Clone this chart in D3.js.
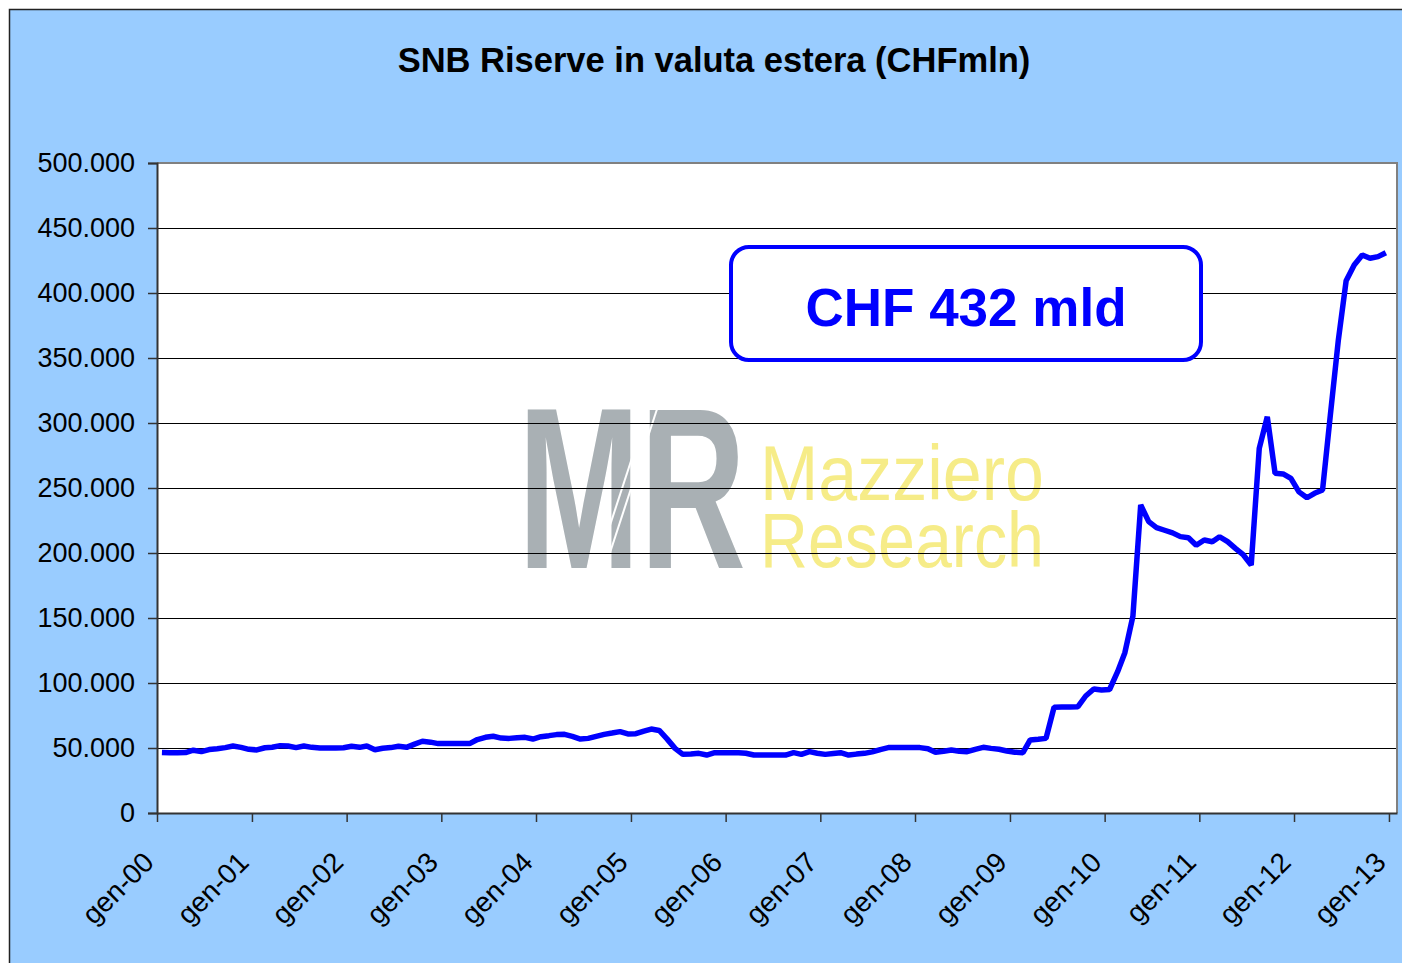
<!DOCTYPE html>
<html>
<head>
<meta charset="utf-8">
<script src="https://cdn.jsdelivr.net/npm/d3@7"></script>
<style>
  body { margin: 0; background: #fff; }
  svg { display: block; font-family: "Liberation Sans", Arial, sans-serif; }
</style>
</head>
<body>
<svg id="chart" width="1402" height="963"></svg>
<script>
/*************************
 *  data (CHF mln, monthly, gen-00 .. dic-12)
*************************/
const r2000 = [46600, 46400, 46400, 46500, 48300, 47200, 48800, 49500, 50300, 51500, 50500, 49000]
const r2001 = [48500, 50200, 50600, 51800, 51500, 50300, 51500, 50500, 50000, 50000, 50000, 50200]
const r2002 = [51300, 50500, 51500, 48700, 49800, 50300, 51300, 50500, 53000, 55200, 54500, 53400]
const r2003 = [53400, 53400, 53400, 53400, 56500, 58200, 59000, 57600, 57400, 57900, 58200, 56900]
const r2004 = [58700, 59500, 60300, 60500, 59000, 56900, 57400, 59000, 60500, 61500, 62600, 60800]
const r2005 = [61000, 63000, 64600, 63500, 57000, 49700, 45100, 45300, 45900, 44600, 46400, 46400]
const r2006 = [46400, 46400, 46000, 44600, 44600, 44600, 44600, 44600, 46400, 45100, 47200, 46000]
const r2007 = [45100, 45800, 46400, 44600, 45300, 45900, 47000, 48800, 50300, 50300, 50300, 50300]
const r2008 = [50300, 49500, 46700, 47500, 48500, 47500, 47200, 49000, 50500, 49700, 49000, 47700]
const r2009 = [46800, 46400, 56200, 56800, 57400, 81300, 81500, 81600, 81800, 90000, 95400, 94600]
const r2010 = [95000, 108700, 123300, 151500, 236900, 224100, 219500, 217500, 215500, 212600, 211800, 206000]
const r2011 = [210000, 208700, 212500, 208700, 203600, 198500, 190800, 280500, 304800, 261300, 260800, 257400]
const r2012 = [247000, 242500, 245900, 248500, 306000, 364000, 409500, 421500, 429200, 426700, 428000, 431000]

const tickLabels = ["gen-00", "gen-01", "gen-02", "gen-03", "gen-04", "gen-05", "gen-06",
                    "gen-07", "gen-08", "gen-09", "gen-10", "gen-11", "gen-12", "gen-13"]
const yTicks = [0, 50000, 100000, 150000, 200000, 250000, 300000, 350000, 400000, 450000, 500000]

const chartTitle = "SNB Riserve in valuta estera (CHFmln)"
const noteText = "CHF 432 mld"

let reserves = [].concat(r2000, r2001, r2002, r2003, r2004, r2005, r2006,
                         r2007, r2008, r2009, r2010, r2011, r2012)
let series = reserves.map((v, i) => ({date: new Date(2000, i, 20), value: v}))

/*************************
 *  layout
*************************/
const svg = d3.select('#chart')
const plot = {left: 157, right: 1397, top: 163, bottom: 813}

const itFormat = d3.formatLocale({decimal: ",", thousands: ".", grouping: [3], currency: ["", ""]}).format(",")

let x = d3.scaleTime()
    .domain([new Date(2000, 0, 1), new Date(2013, 1, 1)])
    .range([plot.left, plot.right])

let y = d3.scaleLinear()
    .domain([0, 500000])
    .range([plot.bottom, plot.top])

// blue frame
svg.append('rect')
    .attr('x', 9.5).attr('y', 9.5)
    .attr('width', 1400).attr('height', 960)
    .attr('fill', '#99CCFF')
    .attr('stroke', '#222').attr('stroke-width', 1.5)

svg.append('text')
    .attr('x', 714).attr('y', 72)
    .attr('text-anchor', 'middle')
    .attr('font-size', 34.5).attr('font-weight', 'bold')
    .attr('fill', '#000')
    .text(chartTitle)

// plot area
svg.append('rect')
    .attr('x', plot.left).attr('y', plot.top)
    .attr('width', plot.right - plot.left).attr('height', plot.bottom - plot.top)
    .attr('fill', '#fff')

/*************************
 *  watermark
 *  squeeze with a scale transform so the boxes match the ink
*************************/
let wm = svg.append('g').attr('id', 'watermark')

function squeeze(sel, x0, y0, width) {
    let w = sel.node().getComputedTextLength()
    sel.attr('transform', `translate(${x0}, ${y0}) scale(${width / w}, 1)`)
}

wm.append('text')
    .attr('font-size', 230).attr('font-weight', 'bold')
    .attr('fill', '#A9B0B4')
    .text('MR')
    .call(squeeze, 518, 568, 228)

wm.selectAll('.stripe')
    .data([0, 9])
    .join('line')
    .attr('x1', d => 650 + d).attr('y1', 403)
    .attr('x2', d => 596 + d).attr('y2', 568)
    .attr('stroke', '#fff').attr('stroke-width', 2)

wm.append('text')
    .attr('font-size', 78).attr('fill', '#F6EC88')
    .text('Mazziero')
    .call(squeeze, 760, 500, 284)

wm.append('text')
    .attr('font-size', 78).attr('fill', '#F6EC88')
    .text('Research')
    .call(squeeze, 760, 567, 284)

/*************************
 *  grid + axes
*************************/
svg.append('g')
    .selectAll('line')
    .data(yTicks.filter(d => d > 0 && d < 500000))
    .join('line')
    .attr('x1', plot.left).attr('x2', plot.right)
    .attr('y1', d => Math.round(y(d)) + 0.5).attr('y2', d => Math.round(y(d)) + 0.5)
    .attr('stroke', '#000').attr('stroke-width', 1)

// plot border (gray top/right)
svg.append('path')
    .attr('d', `M${plot.left},${plot.top}H${plot.right}V${plot.bottom}`)
    .attr('fill', 'none')
    .attr('stroke', '#808080').attr('stroke-width', 2)

let axisLeft = d3.axisLeft(y)
    .tickValues(yTicks)
    .tickFormat(itFormat)
    .tickSize(9)
    .tickPadding(13)

svg.append('g')
    .attr('transform', `translate(${plot.left}, 0)`)
    .call(axisLeft)
    .call(g => g.select('.domain').attr('stroke', '#333').attr('stroke-width', 2))
    .call(g => g.selectAll('.tick line').attr('stroke', '#333').attr('stroke-width', 1.5))
    .call(g => g.selectAll('.tick text')
        .attr('font-size', 27)
        .attr('fill', '#000')
        .attr('font-family', '"Liberation Sans", Arial, sans-serif'))

let yearTicks = tickLabels.map((d, i) => new Date(2000 + i, 0, 1))

let axisBottom = d3.axisBottom(x)
    .tickValues(yearTicks)
    .tickFormat((d, i) => tickLabels[i])
    .tickSize(9)
    .tickSizeOuter(0)

svg.append('g')
    .attr('transform', `translate(0, ${plot.bottom})`)
    .call(axisBottom)
    .call(g => g.select('.domain').attr('stroke', '#333').attr('stroke-width', 2))
    .call(g => g.selectAll('.tick line').attr('stroke', '#333').attr('stroke-width', 1.5))
    .call(g => g.selectAll('.tick text')
        .attr('x', 0).attr('y', 0).attr('dy', 0)
        .attr('transform', 'translate(-2, 51) rotate(-45)')
        .attr('text-anchor', 'end')
        .attr('font-size', 28)
        .attr('fill', '#000')
        .attr('font-family', '"Liberation Sans", Arial, sans-serif'))

/*************************
 *  series line
*************************/
let line = d3.line()
    .x(d => x(d.date))
    .y(d => y(d.value))

svg.append('path')
    .datum(series)
    .attr('d', line)
    .attr('fill', 'none')
    .attr('stroke', '#0000FF')
    .attr('stroke-width', 5.5)
    .attr('stroke-linejoin', 'bevel')

/*************************
 *  annotation box
*************************/
svg.append('rect')
    .attr('x', 731).attr('y', 247)
    .attr('width', 470).attr('height', 113)
    .attr('rx', 18)
    .attr('fill', '#fff')
    .attr('stroke', '#0000FF').attr('stroke-width', 4)

svg.append('text')
    .attr('x', 966).attr('y', 326)
    .attr('text-anchor', 'middle')
    .attr('font-size', 53).attr('font-weight', 'bold')
    .attr('fill', '#0000FF')
    .text(noteText)
</script>
</body>
</html>
